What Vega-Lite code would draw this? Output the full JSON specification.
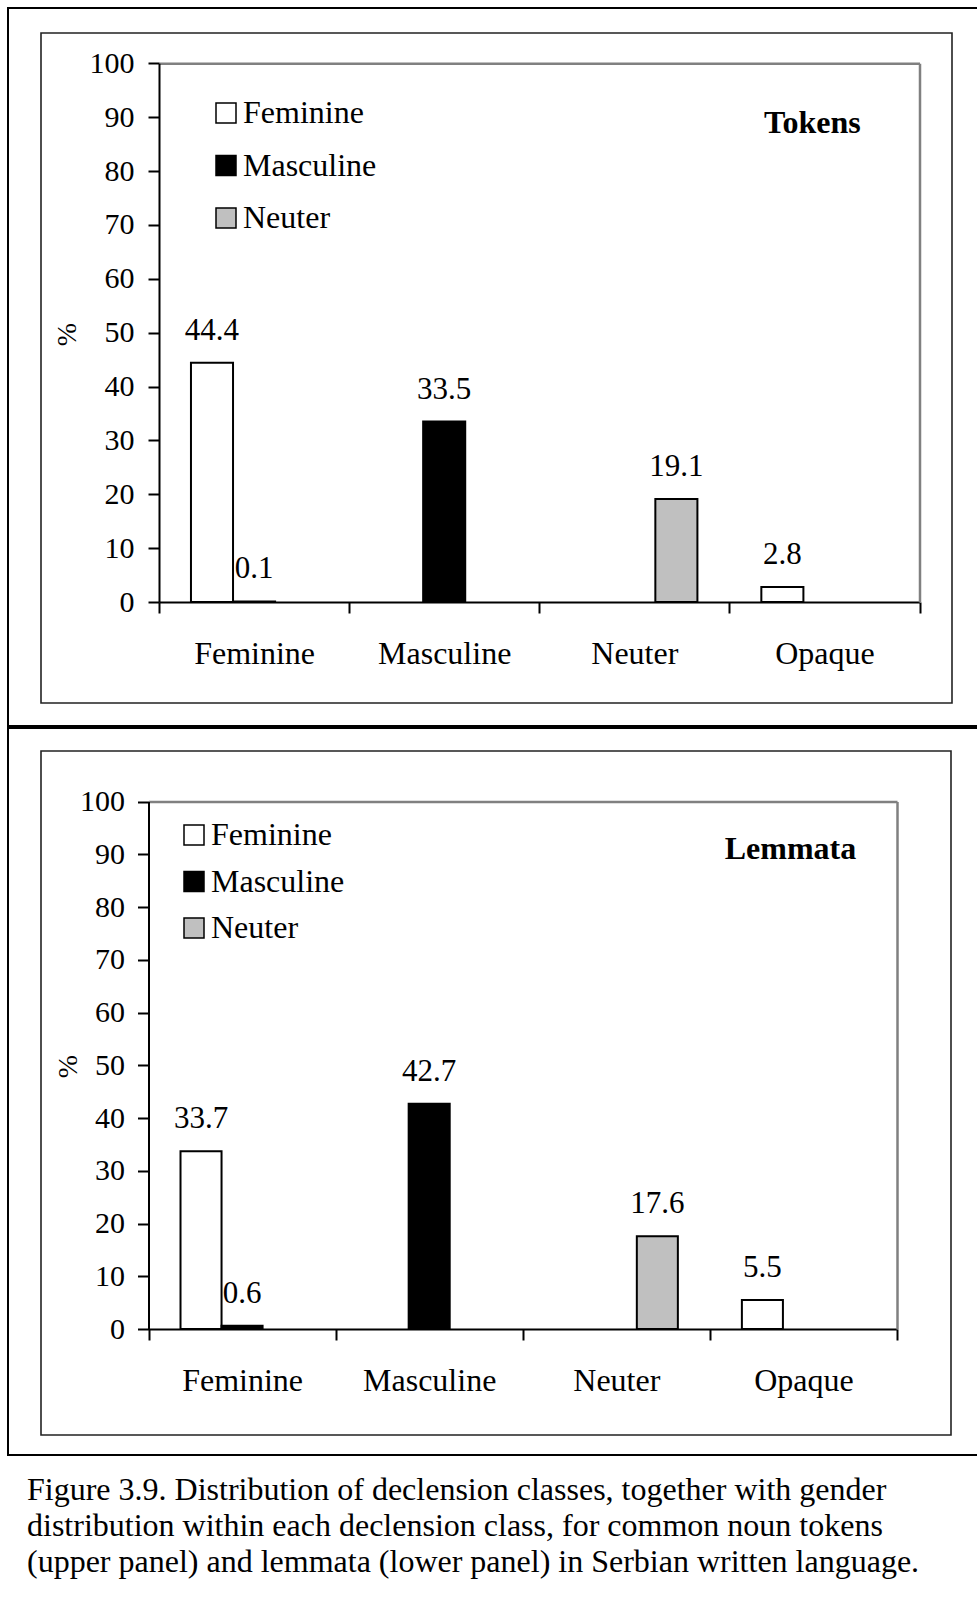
{
  "$schema": "https://vega.github.io/schema/vega-lite/v6.json",
  "padding": {"left": 7, "top": 7, "right": 0, "bottom": 0},
  "background": "white",
  "bounds": "flush",
  "spacing": 2,
  "config": {
    "view": {"stroke": "black", "strokeWidth": 2},
    "font": "Liberation Serif",
    "axis": {"grid": false, "zindex": 1, "labelFont": "Liberation Serif", "titleFont": "Liberation Serif", "labelColor": "black", "titleColor": "black", "domainColor": "black", "tickColor": "black"},
    "legend": {"labelFont": "Liberation Serif", "labelColor": "black"},
    "text": {"font": "Liberation Serif", "color": "black"}
  },
  "resolve": {"scale": {"fill": "independent", "xOffset": "independent"}, "legend": {"fill": "independent"}},
  "datasets": {
    "tokens": [
      {"cls": "Feminine", "gender": "Feminine", "value": 44.4},
      {"cls": "Feminine", "gender": "Masculine", "value": 0.1},
      {"cls": "Masculine", "gender": "Masculine", "value": 33.5},
      {"cls": "Neuter", "gender": "Neuter", "value": 19.1},
      {"cls": "Opaque", "gender": "Feminine", "value": 2.8}
    ],
    "lemmata": [
      {"cls": "Feminine", "gender": "Feminine", "value": 33.7},
      {"cls": "Feminine", "gender": "Masculine", "value": 0.6},
      {"cls": "Masculine", "gender": "Masculine", "value": 42.7},
      {"cls": "Neuter", "gender": "Neuter", "value": 17.6},
      {"cls": "Opaque", "gender": "Feminine", "value": 5.5}
    ]
  },
  "vconcat": [
    {
      "width": 990,
      "height": 718,
      "resolve": {"scale": {"x": "independent", "y": "independent"}, "axis": {"x": "independent", "y": "independent"}},
      "layer": [
        {
          "data": {"values": [{"box": "panel"}]},
          "mark": {"type": "rect", "fill": "white", "fillOpacity": 0, "stroke": "#222222", "strokeWidth": 1.6},
          "encoding": {
            "x": {"datum": 0, "type": "quantitative", "scale": {"domain": [0, 1], "range": [33, 944]}, "axis": null},
            "x2": {"datum": 1},
            "y": {"datum": 0, "type": "quantitative", "scale": {"domain": [0, 1], "range": [695, 25]}, "axis": null},
            "y2": {"datum": 1}
          }
        },
        {
          "data": {"name": "tokens"},
          "resolve": {"axis": {"x": "independent", "y": "independent"}},
          "layer": [
            {
              "mark": {"type": "bar", "stroke": "black", "strokeWidth": 2},
              "encoding": {
                "x": {
                  "field": "cls", "type": "nominal",
                  "scale": {"domain": ["Feminine", "Masculine", "Neuter", "Opaque"], "range": [151, 911.5], "paddingInner": 0, "paddingOuter": 0},
                  "axis": {"orient": "bottom", "offset": -124, "title": null, "domainWidth": 2, "tickBand": "extent", "tickSize": 11, "tickWidth": 2, "labelFontSize": 32, "labelPadding": 50, "labelBaseline": "alphabetic", "labelAngle": 0, "labelOverlap": false}
                },
                "xOffset": {"field": "gender", "type": "nominal", "scale": {"domain": ["Feminine", "Masculine", "Neuter"], "paddingInner": 0, "paddingOuter": 0.76}},
                "y": {
                  "field": "value", "type": "quantitative", "stack": null,
                  "scale": {"domain": [0, 100], "range": [594, 55.3], "nice": false},
                  "axis": {"orient": "left", "offset": -151, "values": [0, 10, 20, 30, 40, 50, 60, 70, 80, 90, 100], "domainWidth": 2, "tickSize": 11, "tickWidth": 2, "labelFontSize": 30, "labelPadding": 14, "labelOverlap": false, "title": "%", "titleFontSize": 28, "titleFontWeight": "normal", "titleX": -92, "titleY": 326, "titleAlign": "center", "titleBaseline": "middle", "titleAngle": 270}
                },
                "fill": {
                  "field": "gender", "type": "nominal",
                  "scale": {"domain": ["Feminine", "Masculine", "Neuter"], "range": ["white", "black", "#c0c0c0"]},
                  "legend": {"orient": "none", "legendX": 202, "legendY": 89, "title": null, "symbolType": "square", "symbolSize": 400, "symbolStrokeColor": "black", "symbolStrokeWidth": 1.5, "labelFontSize": 32, "labelOffset": 1, "rowPadding": 20.5, "padding": 0}
                }
              }
            },
            {
              "mark": {"type": "text", "baseline": "alphabetic", "dy": -23, "fontSize": 31},
              "encoding": {
                "x": {"field": "cls", "type": "nominal", "axis": {"orient": "top", "offset": -55.3, "domainColor": "#808080", "domainWidth": 2.5, "ticks": false, "labels": false, "title": null}},
                "xOffset": {"field": "gender", "type": "nominal"},
                "y": {"field": "value", "type": "quantitative", "axis": {"orient": "right", "offset": -78.5, "domainColor": "#808080", "domainWidth": 2.5, "ticks": false, "labels": false, "title": null}},
                "text": {"field": "value", "type": "quantitative", "format": ".1f"}
              }
            },
            {
              "data": {"values": [{"label": "Tokens"}]},
              "mark": {"type": "text", "fontWeight": "bold", "fontSize": 32, "baseline": "alphabetic", "dx": -12},
              "encoding": {
                "x": {"datum": "Opaque", "axis": null},
                "y": {"datum": 87, "axis": null},
                "text": {"field": "label"}
              }
            }
          ]
        }
      ]
    },
    {
      "width": 990,
      "height": 727,
      "resolve": {"scale": {"x": "independent", "y": "independent"}, "axis": {"x": "independent", "y": "independent"}},
      "layer": [
        {
          "data": {"values": [{"box": "panel"}]},
          "mark": {"type": "rect", "fill": "white", "fillOpacity": 0, "stroke": "#222222", "strokeWidth": 1.6},
          "encoding": {
            "x": {"datum": 0, "type": "quantitative", "scale": {"domain": [0, 1], "range": [33, 943]}, "axis": null},
            "x2": {"datum": 1},
            "y": {"datum": 0, "type": "quantitative", "scale": {"domain": [0, 1], "range": [707, 23]}, "axis": null},
            "y2": {"datum": 1}
          }
        },
        {
          "data": {"name": "lemmata"},
          "resolve": {"axis": {"x": "independent", "y": "independent"}},
          "layer": [
            {
              "mark": {"type": "bar", "stroke": "black", "strokeWidth": 2},
              "encoding": {
                "x": {
                  "field": "cls", "type": "nominal",
                  "scale": {"domain": ["Feminine", "Masculine", "Neuter", "Opaque"], "range": [140.5, 889], "paddingInner": 0, "paddingOuter": 0},
                  "axis": {"orient": "bottom", "offset": -126, "title": null, "domainWidth": 2, "tickBand": "extent", "tickSize": 11, "tickWidth": 2, "labelFontSize": 32, "labelPadding": 50, "labelBaseline": "alphabetic", "labelAngle": 0, "labelOverlap": false}
                },
                "xOffset": {"field": "gender", "type": "nominal", "scale": {"domain": ["Feminine", "Masculine", "Neuter"], "paddingInner": 0, "paddingOuter": 0.78}},
                "y": {
                  "field": "value", "type": "quantitative", "stack": null,
                  "scale": {"domain": [0, 100], "range": [601, 73.5], "nice": false},
                  "axis": {"orient": "left", "offset": -140.5, "values": [0, 10, 20, 30, 40, 50, 60, 70, 80, 90, 100], "domainWidth": 2, "tickSize": 11, "tickWidth": 2, "labelFontSize": 30, "labelPadding": 13, "labelOverlap": false, "title": "%", "titleFontSize": 28, "titleFontWeight": "normal", "titleX": -80, "titleY": 338, "titleAlign": "center", "titleBaseline": "middle", "titleAngle": 270}
                },
                "fill": {
                  "field": "gender", "type": "nominal",
                  "scale": {"domain": ["Feminine", "Masculine", "Neuter"], "range": ["white", "black", "#c0c0c0"]},
                  "legend": {"orient": "none", "legendX": 170, "legendY": 91, "title": null, "symbolType": "square", "symbolSize": 400, "symbolStrokeColor": "black", "symbolStrokeWidth": 1.5, "labelFontSize": 32, "labelOffset": 1, "rowPadding": 14.5, "padding": 0}
                }
              }
            },
            {
              "mark": {"type": "text", "baseline": "alphabetic", "dy": -23, "fontSize": 31},
              "encoding": {
                "x": {"field": "cls", "type": "nominal", "axis": {"orient": "top", "offset": -73.5, "domainColor": "#808080", "domainWidth": 2.5, "ticks": false, "labels": false, "title": null}},
                "xOffset": {"field": "gender", "type": "nominal"},
                "y": {"field": "value", "type": "quantitative", "axis": {"orient": "right", "offset": -101, "domainColor": "#808080", "domainWidth": 2.5, "ticks": false, "labels": false, "title": null}},
                "text": {"field": "value", "type": "quantitative", "format": ".1f"}
              }
            },
            {
              "data": {"values": [{"label": "Lemmata"}]},
              "mark": {"type": "text", "fontWeight": "bold", "fontSize": 32, "baseline": "alphabetic", "dx": -13},
              "encoding": {
                "x": {"datum": "Opaque", "axis": null},
                "y": {"datum": 89.1, "axis": null},
                "text": {"field": "label"}
              }
            }
          ]
        }
      ]
    },
    {
      "width": 990,
      "height": 160,
      "data": {"values": [{"caption": "Figure 3.9"}]},
      "mark": {"type": "text"},
      "encoding": {"text": {"value": ""}},
      "title": {
        "text": [
          "Figure 3.9. Distribution of declension classes, together with gender",
          "distribution within each declension class, for common noun tokens",
          "(upper panel) and lemmata (lower panel) in Serbian written language."
        ],
        "orient": "top", "anchor": "start", "frame": "group",
        "font": "Liberation Serif", "fontSize": 32, "fontWeight": "normal", "color": "black",
        "lineHeight": 36, "baseline": "alphabetic", "offset": 0, "dx": 19, "dy": 147
      }
    }
  ]
}
